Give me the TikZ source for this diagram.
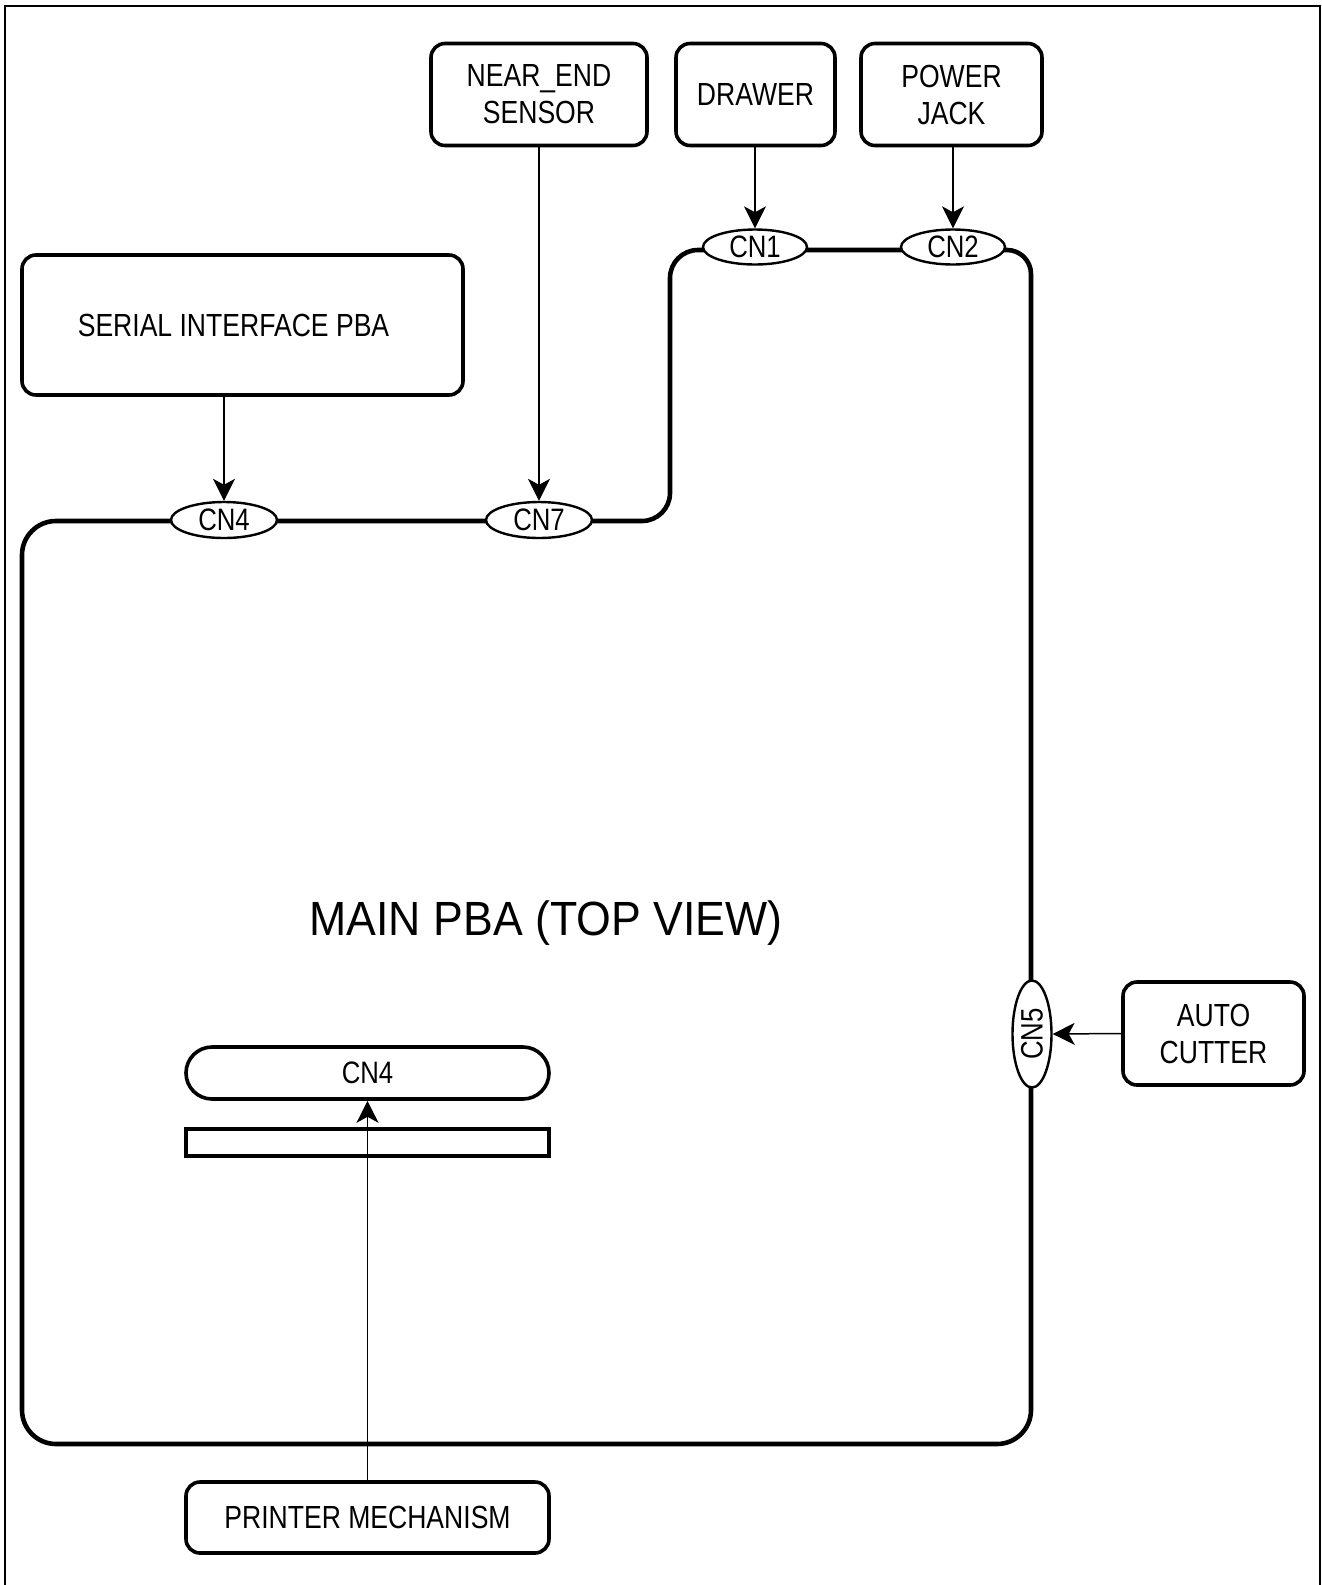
\documentclass[tikz,border=0pt]{standalone}
\usepackage{fontspec}
\setmainfont{Liberation Sans}[FakeStretch=0.83]
\newfontfamily\titlefont{Liberation Sans}[FakeStretch=0.93]
\usetikzlibrary{shapes.geometric,arrows.meta}

\begin{document}
\begin{tikzpicture}[
  x=0.5pt, y=-0.5pt,
  box/.style={draw, line width=1.8pt, rounded corners=7pt, align=center,
    inner sep=0pt, font=\fontsize{16}{18.5}\selectfont},
  conn/.style={ellipse, draw, fill=white, line width=1.2pt, inner sep=0pt,
    minimum width=53pt, minimum height=18pt, font=\fontsize{15.5}{18}\selectfont},
  board/.style={line width=2.3pt},
  feed/.style={line width=0.75pt, -{Stealth[length=11pt, width=11pt, inset=3pt]}}
]
  \useasboundingbox (0,0) rectangle (1322,1585);
  % page frame
  \draw[line width=1pt] (5,1592) -- (5,6) -- (1320,6) -- (1320,1592);

  % main board outline
  \draw[board] (22,800) [rounded corners=17pt] -- (22,521)
    [rounded corners=14pt] -- (670,521) -- (670,250)
    [rounded corners=12pt] -- (1031,250)
    [rounded corners=17pt] -- (1031,1444) -- (22,1444) -- cycle;
  \node[font=\titlefont\fontsize{24}{28}\selectfont] (title) at (546,923) {MAIN PBA (TOP VIEW)};

  % connectors on the board
  \node[conn] (cn4) at (224,520) {CN4};
  \node[conn] (cn7) at (539,520) {CN7};
  \node[conn, minimum width=52pt, minimum height=17.5pt] (cn1) at (755,247) {CN1};
  \node[conn, minimum width=52pt, minimum height=17.5pt] (cn2) at (953,247) {CN2};
  \node[conn, rotate=90, minimum width=53.5pt, minimum height=19.5pt] (cn5) at (1032,1034) {CN5};
  \node[draw, line width=1.8pt, rounded corners=13pt, minimum width=181.5pt,
    minimum height=26pt, inner sep=0pt, font=\fontsize{15.5}{18}\selectfont] (pcn4) at (367.5,1073) {CN4};
  \node[draw, line width=2.2pt, minimum width=181.5pt, minimum height=13.5pt,
    inner sep=0pt] (slot) at (367.5,1142.5) {};

  % outside units
  \node[box, minimum width=108pt, minimum height=51pt] (near) at (539,94.5) {NEAR\_END\\SENSOR};
  \node[box, minimum width=79.5pt, minimum height=51pt] (drawer) at (755.5,94.5) {DRAWER};
  \node[box, minimum width=90.5pt, minimum height=51pt] (power) at (951.5,94.5) {POWER\\JACK};
  \node[box, minimum width=220.5pt, minimum height=70pt] (serial) at (242.5,325) {SERIAL INTERFACE PBA\hspace{9pt}};
  \node[box, minimum width=90.5pt, minimum height=51.5pt] (cutter) at (1213.5,1033.5) {AUTO\\CUTTER};
  \node[box, minimum width=181.5pt, minimum height=35.5pt] (printer) at (367.5,1517.5) {PRINTER MECHANISM};

  % cables
  \draw[feed] (cn4 |- serial.south) -- (cn4.north);
  \draw[feed] (cn7 |- near.south) -- (cn7.north);
  \draw[feed] (cn1 |- drawer.south) -- (cn1.north);
  \draw[feed] (cn2 |- power.south) -- (cn2.north);
  \draw[feed] (cutter.west) -- (cn5.south);
  \draw[feed] (printer.north) -- (pcn4.south);
\end{tikzpicture}
\end{document}
